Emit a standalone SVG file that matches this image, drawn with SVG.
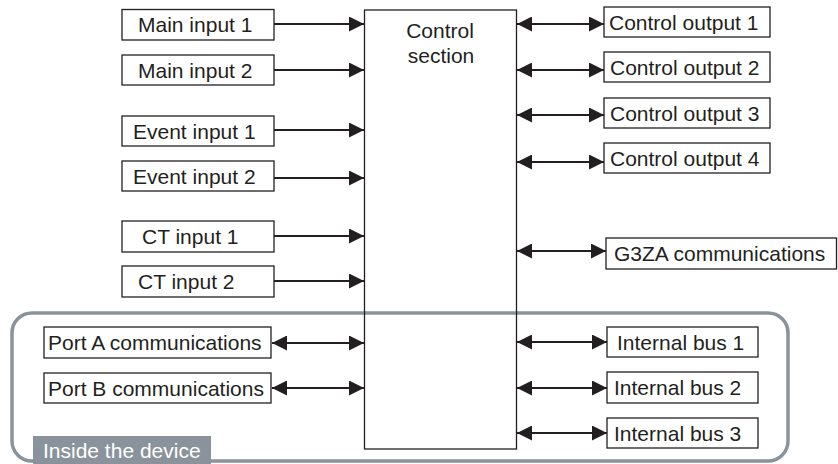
<svg xmlns="http://www.w3.org/2000/svg" width="838" height="464" viewBox="0 0 838 464">
<style>
.box{fill:#fff;stroke:#231f20;stroke-width:1.3}
.t{font-family:"Liberation Sans",Arial,sans-serif;font-size:21px;fill:#231f20}
.c{stroke:#231f20;stroke-width:2.2;fill:none}
</style>
<defs>
<marker id="ah" viewBox="0 0 15 15" refX="15" refY="7.5" markerWidth="15" markerHeight="15" markerUnits="userSpaceOnUse" orient="auto-start-reverse">
<path d="M0,0 L15,7.5 L0,15 Z" fill="#231f20"/>
</marker>
</defs>
<rect width="838" height="464" fill="#fff"/>
<g id="inside-device">
<rect x="12" y="313" width="776" height="148" rx="20" fill="none" stroke="#8a939b" stroke-width="3.5"/>
<rect x="33" y="436" width="178" height="28" fill="#8a939b"/>
<text x="43" y="458" class="t" style="fill:#fff">Inside the device</text>
</g>
<g id="control-section">
<rect x="364.5" y="10" width="152" height="439" fill="none" stroke="#231f20" stroke-width="1.3"/>
<text x="440" y="38" class="t" text-anchor="middle">Control</text>
<text x="441" y="63" class="t" text-anchor="middle">section</text>
</g>
<g id="connectors">
<line x1="274" y1="24" x2="364" y2="24" class="c" marker-end="url(#ah)"/>
<line x1="274" y1="70" x2="364" y2="70" class="c" marker-end="url(#ah)"/>
<line x1="274" y1="130" x2="364" y2="130" class="c" marker-end="url(#ah)"/>
<line x1="274" y1="178" x2="364" y2="178" class="c" marker-end="url(#ah)"/>
<line x1="274" y1="236" x2="364" y2="236" class="c" marker-end="url(#ah)"/>
<line x1="274" y1="281" x2="364" y2="281" class="c" marker-end="url(#ah)"/>
<line x1="272" y1="343" x2="364" y2="343" class="c" marker-start="url(#ah)" marker-end="url(#ah)"/>
<line x1="272" y1="388" x2="364" y2="388" class="c" marker-start="url(#ah)" marker-end="url(#ah)"/>
<line x1="517" y1="24" x2="604" y2="24" class="c" marker-start="url(#ah)" marker-end="url(#ah)"/>
<line x1="517" y1="70" x2="604" y2="70" class="c" marker-start="url(#ah)" marker-end="url(#ah)"/>
<line x1="517" y1="115" x2="604" y2="115" class="c" marker-start="url(#ah)" marker-end="url(#ah)"/>
<line x1="517" y1="162" x2="604" y2="162" class="c" marker-start="url(#ah)" marker-end="url(#ah)"/>
<line x1="517" y1="251" x2="606" y2="251" class="c" marker-start="url(#ah)" marker-end="url(#ah)"/>
<line x1="517" y1="342" x2="607" y2="342" class="c" marker-start="url(#ah)" marker-end="url(#ah)"/>
<line x1="517" y1="388" x2="607" y2="388" class="c" marker-start="url(#ah)" marker-end="url(#ah)"/>
<line x1="517" y1="433" x2="607" y2="433" class="c" marker-start="url(#ah)" marker-end="url(#ah)"/>
</g>
<g id="main-input-1"><rect x="122" y="9.5" width="152" height="30.5" class="box"/><text x="138" y="32" class="t">Main input 1</text></g>
<g id="main-input-2"><rect x="122" y="55" width="152" height="30" class="box"/><text x="138" y="77.5" class="t">Main input 2</text></g>
<g id="event-input-1"><rect x="122" y="116" width="152" height="30" class="box"/><text x="133" y="138.5" class="t">Event input 1</text></g>
<g id="event-input-2"><rect x="122" y="161" width="152" height="30" class="box"/><text x="133" y="183.5" class="t">Event input 2</text></g>
<g id="ct-input-1"><rect x="122" y="221" width="152" height="31" class="box"/><text x="142" y="244" class="t">CT input 1</text></g>
<g id="ct-input-2"><rect x="122" y="266" width="152" height="31" class="box"/><text x="138" y="289" class="t">CT input 2</text></g>
<g id="port-a"><rect x="44" y="327" width="227" height="31" class="box"/><text x="48" y="350" class="t">Port A communications</text></g>
<g id="port-b"><rect x="44" y="373" width="227" height="30" class="box"/><text x="48" y="395.5" class="t">Port B communications</text></g>
<g id="control-output-1"><rect x="604" y="7" width="166" height="30" class="box"/><text x="609" y="29.5" class="t">Control output 1</text></g>
<g id="control-output-2"><rect x="604" y="52" width="166" height="30" class="box"/><text x="610" y="74.5" class="t">Control output 2</text></g>
<g id="control-output-3"><rect x="604" y="98" width="166" height="30" class="box"/><text x="610" y="120.5" class="t">Control output 3</text></g>
<g id="control-output-4"><rect x="604" y="143" width="166" height="30" class="box"/><text x="610" y="165.5" class="t">Control output 4</text></g>
<g id="g3za"><rect x="606" y="238" width="230.5" height="31" class="box"/><text x="614" y="261" class="t">G3ZA communications</text></g>
<g id="internal-bus-1"><rect x="607" y="327" width="151" height="30" class="box"/><text x="617" y="349.5" class="t">Internal bus 1</text></g>
<g id="internal-bus-2"><rect x="607" y="372" width="151" height="31" class="box"/><text x="614" y="395" class="t">Internal bus 2</text></g>
<g id="internal-bus-3"><rect x="607" y="418" width="151" height="30" class="box"/><text x="614" y="440.5" class="t">Internal bus 3</text></g>
</svg>
